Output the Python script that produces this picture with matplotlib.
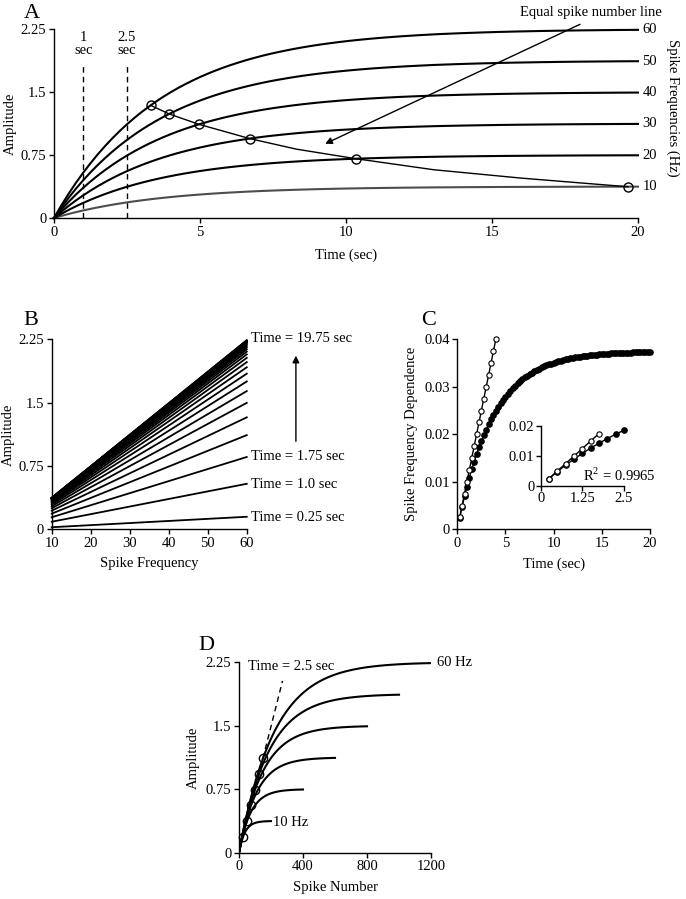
import numpy as np
import matplotlib
matplotlib.use("Agg")
import matplotlib.pyplot as plt

plt.rcParams['font.family'] = ['Liberation Serif', 'DejaVu Serif']
plt.rcParams['font.size'] = 10.5
plt.rcParams['mathtext.fontset'] = 'custom'
plt.rcParams['mathtext.rm'] = 'Liberation Serif'

# stimulation frequencies (Hz)
freqs = [10, 20, 30, 40, 50, 60]

# spike frequency dependence (panel C, filled dots), one value every 0.25 s, in units of 1e-3
t_c = np.arange(0.25, 20.01, 0.25)
sfd = np.array([
    2.48, 4.80, 6.97, 8.99, 10.87, 12.64, 14.28, 15.82, 17.26, 18.60,
    19.85, 21.02, 22.11, 23.13, 24.08, 24.97, 25.80, 26.57, 27.29, 27.97,
    28.60, 29.19, 29.74, 30.25, 30.73, 31.18, 31.60, 31.99, 32.36, 32.70,
    33.01, 33.31, 33.59, 33.85, 34.09, 34.32, 34.53, 34.72, 34.91, 35.08,
    35.24, 35.39, 35.53, 35.66, 35.78, 35.89, 36.00, 36.10, 36.19, 36.28,
    36.36, 36.44, 36.51, 36.57, 36.63, 36.69, 36.74, 36.79, 36.84, 36.88,
    36.93, 36.96, 37.00, 37.03, 37.06, 37.09, 37.12, 37.14, 37.17, 37.19,
    37.21, 37.23, 37.25, 37.26, 37.28, 37.29, 37.31, 37.32, 37.33, 37.34,
]) * 1e-3

# open dots in C: initial linear rate
t_open = np.arange(0.25, 4.01, 0.25)
sfd_open = np.array([2.5, 5.0, 7.5, 10.0, 12.5, 15.0, 17.5, 20.0,
                     22.5, 25.0, 27.5, 30.0, 32.5, 35.0, 37.5, 40.0]) * 1e-3

# equal spike number line (panel A)
eq_line_t = [3.32, 3.95, 4.97, 6.71, 8.3, 10.34, 13.0, 16.0, 19.66]
eq_line_amp = [1.34, 1.238, 1.115, 0.945, 0.82, 0.706, 0.575, 0.475, 0.372]
eq_circ_t = [19.66, 10.34, 6.71, 4.97, 3.95, 3.32]
eq_circ_amp = [0.372, 0.706, 0.945, 1.115, 1.238, 1.34]

# time markers in A
mark_times = [1, 2.5]
mark_labels = ['1\nsec', '2.5\nsec']

# panel B: one line every 0.75 s
b_idx = list(range(0, 80, 3))
b_freq = np.array([10, 60])

# panel D: Time = 2.5 s reference line
d_dash_n = [0, 272]
d_dash_amp = [0, 2.03]

t_a = np.concatenate([[0.0], t_c])
s_a = np.concatenate([[0.0], sfd])
yt_amp = [0, 0.75, 1.5, 2.25]
yt_amp_lab = ['0', '0.75', '1.5', '2.25']


def style(ax):
    for s in ('top', 'right'):
        ax.spines[s].set_visible(False)
    for s in ('left', 'bottom'):
        ax.spines[s].set_linewidth(1.0)
    ax.tick_params(direction='out', length=3.5, width=1, pad=2, labelsize=10.5)


fig = plt.figure(figsize=(6.86, 8.99), dpi=100)

# ---------------- A ----------------
axA = fig.add_axes([0.0787, 0.7575, 0.8513, 0.2102])
style(axA)
for f in freqs:
    c = '0.3' if f == 10 else 'k'
    axA.plot(t_a, f * s_a, color=c, lw=1.5, clip_on=False)
    axA.text(20.15, f * s_a[-1], str(f), ha='left', va='center')
for tm, lab in zip(mark_times, mark_labels):
    axA.plot([tm, tm], [0, 1.83], 'k--', lw=1, dashes=(4, 3))
    axA.text(tm, 2.07, lab, ha='center', va='center', linespacing=1.05)
axA.plot(eq_line_t, eq_line_amp, 'k-', lw=1)
axA.plot(eq_circ_t, eq_circ_amp, 'o', ms=6.5, mfc='none', mec='k', mew=1)
axA.annotate('', xy=(9.2, 0.87), xytext=(18.1, 2.32),
             arrowprops=dict(arrowstyle='-|>', color='k', lw=1, mutation_scale=10),
             annotation_clip=False)
axA.text(20.8, 2.45, 'Equal spike number line', ha='right', va='center')
axA.set_xlim(0, 20)
axA.set_ylim(0, 2.25)
axA.set_xticks([0, 5, 10, 15, 20])
axA.set_yticks(yt_amp)
axA.set_yticklabels(yt_amp_lab)
axA.set_xlabel('Time (sec)')
axA.set_ylabel('Amplitude')
axA.xaxis.set_label_coords(0.5, -0.164)
axA.yaxis.set_label_coords(-0.063, 0.5)
fig.text(0.98, 0.88, 'Spike Frequencies (Hz)', rotation=270, ha='center', va='center')

# ---------------- B ----------------
axB = fig.add_axes([0.0754, 0.4112, 0.2843, 0.2113])
style(axB)
for i in b_idx:
    axB.plot(b_freq, b_freq * sfd[i], 'k-', lw=1.3, clip_on=False)
axB.text(61.0, 2.262, 'Time = 19.75 sec', ha='left', va='center')
axB.text(61.0, 0.86, 'Time = 1.75 sec', ha='left', va='center')
axB.text(61.0, 0.532, 'Time = 1.0 sec', ha='left', va='center')
axB.text(61.0, 0.14, 'Time = 0.25 sec', ha='left', va='center')
axB.annotate('', xy=(72.6, 2.09), xytext=(72.6, 1.01),
             arrowprops=dict(arrowstyle='-|>', color='k', lw=1, mutation_scale=10),
             annotation_clip=False)
axB.set_xlim(10, 60)
axB.set_ylim(0, 2.25)
axB.set_xticks([10, 20, 30, 40, 50, 60])
axB.set_yticks(yt_amp)
axB.set_yticklabels(yt_amp_lab)
axB.set_xlabel('Spike Frequency')
axB.set_ylabel('Amplitude')
axB.xaxis.set_label_coords(0.5, -0.146)
axB.yaxis.set_label_coords(-0.188, 0.5)

# ---------------- C ----------------
axC = fig.add_axes([0.6666, 0.4112, 0.2809, 0.2113])
style(axC)
axC.plot(t_c, sfd, 'k-o', lw=1, ms=3.8, mfc='k', mec='k', clip_on=False)
axC.plot(t_open, sfd_open, 'k-o', lw=1, ms=3.8, mfc='white', mec='k', mew=0.8, clip_on=False)
axC.set_xlim(0, 20)
axC.set_ylim(0, 0.04)
axC.set_xticks([0, 5, 10, 15, 20])
axC.set_yticks([0, 0.01, 0.02, 0.03, 0.04])
axC.set_yticklabels(['0', '0.01', '0.02', '0.03', '0.04'])
axC.set_xlabel('Time (sec)')
axC.set_ylabel('Spike Frequency Dependence')
axC.xaxis.set_label_coords(0.5, -0.151)
axC.yaxis.set_label_coords(-0.204, 0.5)

axI = fig.add_axes([0.7882, 0.4594, 0.1214, 0.0667])
style(axI)
axI.plot(t_c[:10], sfd[:10], 'k-o', lw=1, ms=3.8, mfc='k', mec='k', clip_on=False)
axI.plot(t_open[:7], sfd_open[:7], 'k-o', lw=1, ms=3.8, mfc='white', mec='k', mew=0.8, clip_on=False)
axI.set_xlim(0, 2.5)
axI.set_ylim(0, 0.02)
axI.set_xticks([0, 1.25, 2.5])
axI.set_xticklabels(['0', '1.25', '2.5'])
axI.set_yticks([0, 0.01, 0.02])
axI.set_yticklabels(['0', '0.01', '0.02'])
axI.tick_params(pad=1)
axI.text(1.26, 0.0037, r'R$^{\mathrm{2}}$ = 0.9965', ha='left', va='center')

# ---------------- D ----------------
axD = fig.add_axes([0.3484, 0.0515, 0.2799, 0.2118])
style(axD)
for f in freqs:
    axD.plot(f * t_a, f * s_a, 'k-', lw=1.5)
axD.plot(d_dash_n, d_dash_amp, 'k--', lw=1, dashes=(4, 3))
axD.plot([f * 2.5 for f in freqs], [f * sfd[9] for f in freqs], 'o',
         ms=6, mfc='none', mec='k', mew=1, clip_on=False)
axD.text(58, 2.2, 'Time = 2.5 sec', ha='left', va='center')
axD.text(1237, 2.245, '60 Hz', ha='left', va='center')
axD.text(214, 0.36, '10 Hz', ha='left', va='center')
axD.set_xlim(0, 1200)
axD.set_ylim(0, 2.25)
axD.set_xticks([0, 400, 800, 1200])
axD.set_yticks(yt_amp)
axD.set_yticklabels(yt_amp_lab)
axD.set_xlabel('Spike Number')
axD.set_ylabel('Amplitude')
axD.xaxis.set_label_coords(0.5, -0.147)
axD.yaxis.set_label_coords(-0.203, 0.5)

# panel letters
for lab, x, y in [('A', 0.0466, 0.9855), ('B', 0.0452, 0.643),
                  ('C', 0.6254, 0.643), ('D', 0.3003, 0.2825)]:
    fig.text(x, y, lab, fontsize=16, ha='center', va='center')

fig.savefig('out.png', dpi=100)
